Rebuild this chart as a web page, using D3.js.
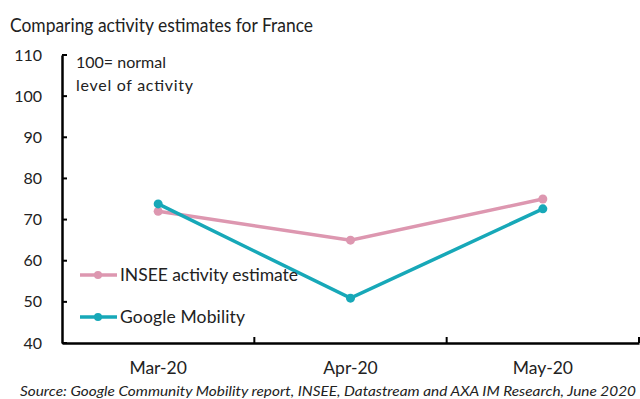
<!DOCTYPE html>
<html><head><meta charset="utf-8">
<script src="https://cdn.jsdelivr.net/npm/d3@7"></script>
<style>body{margin:0;background:#fff}svg{display:block}text{font-family:Lato,"Open Sans",sans-serif;fill:#222}</style>
</head><body><svg id="c" width="640" height="399"></svg>
<script>
const categories = ["Mar-20","Apr-20","May-20"];
const inseeValues = [72, 65, 75];
const googleValues = [73.8, 50.9, 72.6];
const yTicks = [40,50,60,70,80,90,100,110];
const seriesNames = ["INSEE activity estimate","Google Mobility"];
const colors = ["#dd97b0","#17a8b8"];

const svg = d3.select("#c");
const x0 = 62, x1 = 639, yTop = 55, yBot = 343;
const x = d3.scaleBand().domain(categories).range([x0, x1]);
const y = d3.scaleLinear().domain([40,110]).range([yBot, yTop]);

svg.append("text").attr("x",10).attr("y",32).attr("font-size",19.5)
  .attr("textLength",303).attr("lengthAdjust","spacingAndGlyphs").text("Comparing activity estimates for France");

// y axis
const ya = svg.append("g").attr("transform",`translate(${x0},0)`)
  .call(d3.axisLeft(y).tickValues(yTicks).tickSize(0).tickPadding(20));
ya.select(".domain").attr("stroke","#000").attr("stroke-width",2.5);
ya.selectAll("text").attr("font-size",16).attr("font-family","Lato,sans-serif").attr("fill","#222");
svg.append("g").selectAll("line").data(yTicks).join("line")
  .attr("x1",x0).attr("x2",x0+5).attr("y1",d=>y(d)).attr("y2",d=>y(d)).attr("stroke","#000").attr("stroke-width",2);

// x axis
const xa = svg.append("g").attr("transform",`translate(0,${yBot})`)
  .call(d3.axisBottom(x).tickSize(0).tickPadding(19));
xa.select(".domain").attr("stroke","#000").attr("stroke-width",2.5);
xa.selectAll("text").attr("font-size",17.5).attr("font-family","Lato,sans-serif").attr("fill","#222");
const bounds = categories.map(c=>x(c)).concat([x1]);
svg.append("g").selectAll("line").data(bounds.slice(1)).join("line")
  .attr("x1",d=>d).attr("x2",d=>d).attr("y1",yBot).attr("y2",yBot-6).attr("stroke","#000").attr("stroke-width",2);

// annotation
svg.append("text").attr("x",76).attr("y",68).attr("font-size",16).text("100= normal");
svg.append("text").attr("x",76).attr("y",91).attr("font-size",16).attr("textLength",117).attr("lengthAdjust","spacing").text("level of activity");

const cx = d => x(d) + x.bandwidth()/2;
const series = [inseeValues, googleValues];
const line = d3.line().x((d,i)=>cx(categories[i])).y(d=>y(d));
series.forEach((vals,k)=>{
  svg.append("path").datum(vals).attr("d",line).attr("fill","none").attr("stroke",colors[k]).attr("stroke-width",3.5);
  svg.append("g").selectAll("circle").data(vals).join("circle")
    .attr("cx",(d,i)=>cx(categories[i])).attr("cy",d=>y(d)).attr("r",4.5).attr("fill",colors[k]);
});

// legend
const ly = [275, 317];
const lw = [178, 125];
seriesNames.forEach((n,k)=>{
  const g = svg.append("g");
  g.append("line").attr("x1",80).attr("x2",117).attr("y1",ly[k]).attr("y2",ly[k]).attr("stroke",colors[k]).attr("stroke-width",3.5);
  g.append("circle").attr("cx",98).attr("cy",ly[k]).attr("r",4).attr("fill",colors[k]);
  g.append("text").attr("x",120).attr("y",ly[k]+6).attr("font-size",17.5)
    .attr("textLength",lw[k]).attr("lengthAdjust","spacing").text(n);
});

svg.append("text").attr("x",20).attr("y",396).attr("font-size",14).attr("font-style","italic")
  .attr("textLength",616).attr("lengthAdjust","spacingAndGlyphs")
  .text("Source: Google Community Mobility report, INSEE, Datastream and AXA IM Research, June 2020");
</script></body></html>
